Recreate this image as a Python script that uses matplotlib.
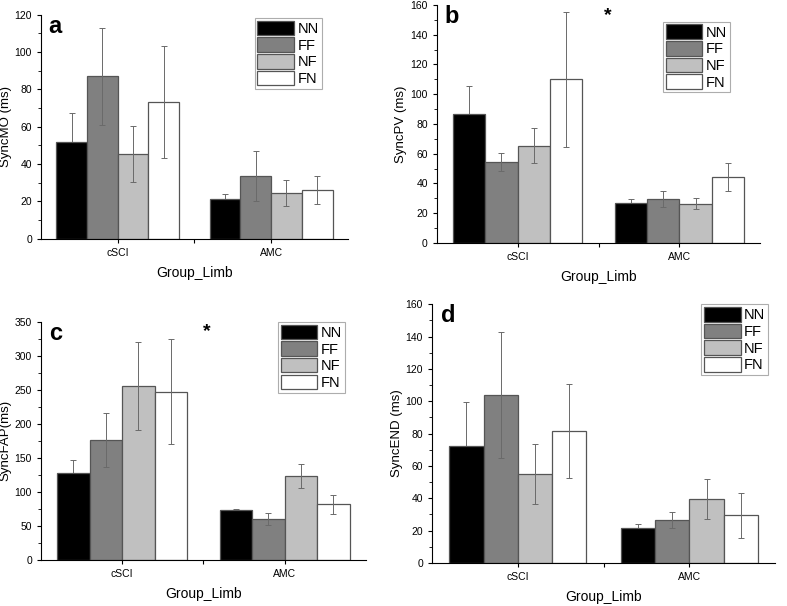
import numpy as np
import matplotlib
matplotlib.use("Agg")
import matplotlib.pyplot as plt
from matplotlib.ticker import MultipleLocator, FixedLocator

plt.rcParams['font.family'] = ['Liberation Sans', 'DejaVu Sans']

groups = ['cSCI', 'AMC']
conds = ['NN', 'FF', 'NF', 'FN']
colors = ['#000000', '#808080', '#c0c0c0', '#ffffff']

# means per condition (cSCI, AMC) and error
mo_mean = {'NN': [52, 21.5], 'FF': [87, 33.5], 'NF': [45.5, 24.5], 'FN': [73, 26]}
mo_err = {'NN': [15.5, 2.5], 'FF': [26, 13.5], 'NF': [15, 7], 'FN': [30, 7.5]}
pv_mean = {'NN': [86.5, 27], 'FF': [54.5, 29.5], 'NF': [65.5, 26.5], 'FN': [110, 44.5]}
pv_err = {'NN': [19, 2.5], 'FF': [6, 5.5], 'NF': [11.5, 3.5], 'FN': [45.5, 9.5]}
fap_mean = {'NN': [128, 73], 'FF': [176, 60], 'NF': [256, 123], 'FN': [247, 82]}
fap_err = {'NN': [19, 1.5], 'FF': [40, 9], 'NF': [65, 18], 'FN': [77, 14]}
end_mean = {'NN': [72.5, 21.5], 'FF': [104, 26.5], 'NF': [55, 39.5], 'FN': [81.5, 29.5]}
end_err = {'NN': [27, 2.5], 'FF': [39, 5], 'NF': [18.5, 12.5], 'FN': [29, 14]}

panels = [
    dict(pos=[0.052, 0.606, 0.390, 0.370], mean=mo_mean, err=mo_err, ylab='SyncMO (ms)',
         ymax=120, major=20, letter='a', star=None, leg=(0.915, 0.985)),
    dict(pos=[0.555, 0.599, 0.411, 0.393], mean=pv_mean, err=pv_err, ylab='SyncPV (ms)',
         ymax=160, major=20, letter='b', star=(0.53, 0.955), leg=(0.907, 0.93)),
    dict(pos=[0.052, 0.076, 0.413, 0.393], mean=fap_mean, err=fap_err, ylab='SyncFAP(ms)',
         ymax=350, major=50, letter='c', star=(0.51, 0.96), leg=(0.935, 1.0)),
    dict(pos=[0.549, 0.071, 0.436, 0.427], mean=end_mean, err=end_err, ylab='SyncEND (ms)',
         ymax=160, major=20, letter='d', star=None, leg=(0.98, 1.0)),
]

fig = plt.figure(figsize=(7.87, 6.06), dpi=100)
x = np.arange(1, len(groups) + 1)
w = 0.2
for p in panels:
    ax = fig.add_axes(p['pos'])
    for i, c in enumerate(conds):
        xi = x - 0.3 + i * w
        ax.bar(xi, p['mean'][c], width=w, color=colors[i], edgecolor='#555555',
               linewidth=0.9, label=c, zorder=2)
        # black bars hide the lower half of their error bar
        ez = 1 if c == 'NN' else 3
        ax.errorbar(xi, p['mean'][c], yerr=p['err'][c], fmt='none', ecolor='#6a6a6a',
                    elinewidth=0.7, capsize=2.5, capthick=0.7, zorder=ez)
    ax.set_xlim(0.5, 2.5)
    ax.set_ylim(0, p['ymax'])
    ax.spines['top'].set_visible(False)
    ax.spines['right'].set_visible(False)
    ax.yaxis.set_major_locator(MultipleLocator(p['major']))
    ax.yaxis.set_minor_locator(MultipleLocator(p['major'] / 2))
    ax.xaxis.set_major_locator(FixedLocator([1, 1.5, 2]))
    ax.set_xticklabels(['cSCI', '', 'AMC'])
    ax.tick_params(axis='both', direction='out', labelsize=7.5, length=3, width=0.8)
    ax.tick_params(axis='y', which='minor', direction='out', length=2, width=0.6)
    ax.set_ylabel(p['ylab'], fontsize=9.5, labelpad=2)
    ax.set_xlabel('Group_Limb', fontsize=10, labelpad=6)
    ax.text(0.025, 1.0, p['letter'], transform=ax.transAxes, fontsize=17,
            fontweight='bold', va='top', ha='left')
    if p['star'] is not None:
        ax.text(p['star'][0], p['star'][1], '*', transform=ax.transAxes, fontsize=14,
                fontweight='bold', va='center', ha='center')
    leg = ax.legend(loc='upper right', bbox_to_anchor=p['leg'], fontsize=10.5,
                    frameon=True, fancybox=False, edgecolor='#999999',
                    handlelength=2.5, handleheight=1.15, labelspacing=0.1,
                    borderpad=0.2, handletextpad=0.25, borderaxespad=0)
    leg.get_frame().set_linewidth(0.8)

fig.savefig('out.png', dpi=100)
